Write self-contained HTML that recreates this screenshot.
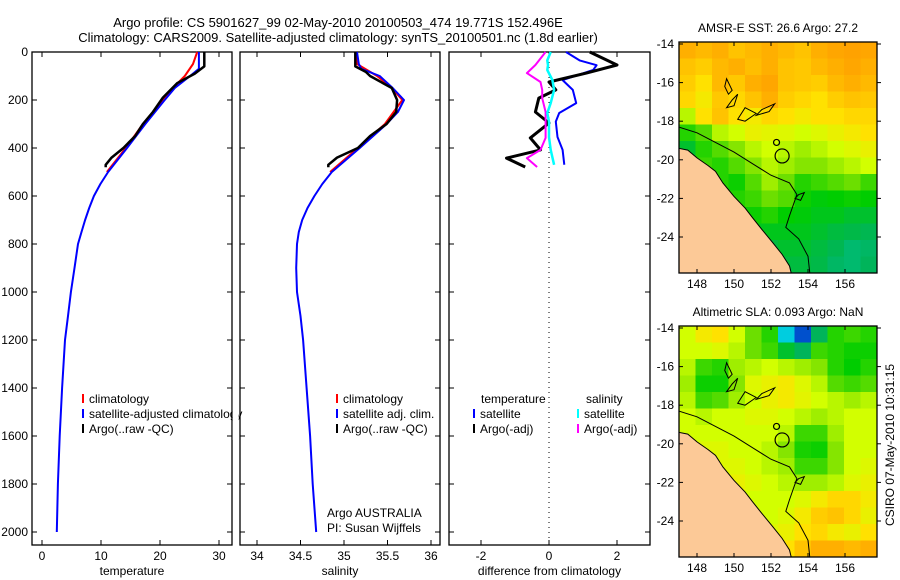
<!DOCTYPE html>
<html><head><meta charset="utf-8"><style>
body{margin:0;background:#fff;}
svg{display:block;font-family:"Liberation Sans",sans-serif;}
text{font-size:12px;fill:#000;}
</style></head><body>
<svg id="fig" width="900" height="580" viewBox="0 0 900 580" xmlns="http://www.w3.org/2000/svg">
<text x="338" y="27" text-anchor="middle" style="font-size:13px">Argo profile: CS 5901627_99 02-May-2010 20100503_474 19.771S 152.496E</text>
<text x="338" y="42" text-anchor="middle" style="font-size:13px">Climatology: CARS2009. Satellite-adjusted climatology: synTS_20100501.nc (1.8d earlier)</text>
<g id="g"></g>
</svg>
<script>
// ---- data ----
const depthTicks=[0,200,400,600,800,1000,1200,1400,1600,1800,2000];
const tempTicks=[0,10,20,30];
const salTicks=[34,34.5,35,35.5,36];
const salTickLabels=["34","34.5","35","35.5","36"];
const diffTicks=[-2,0,2];
// temperature profiles
const tClimDepth=[0,50,100,150,200,300,400,500];
const tClim=[26.3,25.6,24.2,22.2,20.5,17.1,14.2,11.0];
const tSatDepth=[0,70,100,150,200,300,400,500,550,600,650,700,750,800,900,1000,1100,1200,1400,1600,1800,2000];
const tSat=[26.6,26.6,25.1,22.5,20.8,17.5,14.4,11.2,9.9,8.8,8.0,7.3,6.7,6.1,5.5,4.9,4.4,3.9,3.4,3.0,2.7,2.5];
const tArgoDepth=[0,60,90,130,190,250,300,350,400,440,470,480];
const tArgo=[27.5,27.5,25.9,22.9,20.5,18.8,17.1,15.8,13.8,11.8,10.8,10.8];
// salinity profiles
const sClimDepth=[0,50,100,150,200,300,400,500];
const sClim=[35.13,35.15,35.38,35.55,35.67,35.47,35.16,34.84];
const sSatDepth=[0,50,70,100,150,200,250,300,400,500,550,600,650,700,750,800,900,1000,1100,1200,1400,1600,1800,2000];
const sSat=[35.15,35.17,35.2,35.41,35.56,35.69,35.62,35.49,35.18,34.86,34.75,34.66,34.58,34.52,34.48,34.46,34.45,34.46,34.5,34.53,34.57,34.61,34.64,34.68];
const sArgoDepth=[0,60,83,100,150,200,250,300,350,400,440,470,480];
const sArgo=[35.13,35.13,35.25,35.3,35.55,35.61,35.6,35.49,35.3,35.16,34.92,34.82,34.82];
// differences
const dDepth=[0,35,55,75,117,158,213,254,290,354,408,470];
const dTSat=[0.5,0.9,1.4,1.3,0.4,0.7,0.8,0.3,0.2,0.25,0.4,0.45];
const dADepth=[0,54,88,125,158,192,250,296,358,408,442,479];
const dTArgo=[1.2,2.0,1.1,0.0,0.2,-0.3,-0.4,0.0,-0.55,-0.25,-1.25,-0.7];
const dSArgo=[-0.1,-0.4,-0.65,-0.25,-0.2,-0.2,-0.1,-0.1,-0.1,-0.25,-0.65,-0.35];
const dSSat=[0.05,-0.05,-0.03,-0.05,0.1,0.15,0.05,-0.05,0,0,0.05,0.15];
// maps: 14 rows (lat 14..26), 12 cols (lon 147..158), values 0..1 on colormap
const sstGrid=[
[.9,.88,.9,.86,.88,.9,.88,.86,.9,.92,.93,.92],
[.86,.84,.88,.9,.87,.9,.86,.85,.88,.9,.92,.9],
[.84,.8,.88,.85,.9,.92,.86,.85,.84,.88,.9,.88],
[.82,.78,.85,.82,.86,.9,.84,.82,.8,.84,.86,.85],
[.7,.8,.86,.8,.78,.82,.8,.78,.8,.8,.82,.82],
[.58,.62,.7,.72,.76,.75,.74,.72,.74,.76,.78,.8],
[.5,.58,.62,.66,.7,.72,.7,.68,.7,.72,.74,.76],
[.58,.6,.58,.62,.66,.7,.68,.66,.66,.68,.7,.72],
[.6,.62,.58,.56,.62,.68,.64,.58,.6,.62,.64,.6],
[.6,.58,.55,.58,.6,.64,.62,.56,.54,.55,.56,.55],
[.56,.55,.55,.55,.56,.58,.55,.54,.52,.52,.5,.5],
[.52,.52,.52,.52,.52,.52,.52,.52,.5,.48,.47,.46],
[.5,.5,.5,.48,.46,.48,.5,.5,.48,.46,.43,.44],
[.48,.48,.46,.44,.42,.46,.48,.48,.47,.44,.43,.45]];
const slaGrid=[
[.72,.78,.8,.72,.64,.58,.3,.1,.45,.58,.6,.58],
[.72,.72,.74,.7,.64,.6,.5,.45,.6,.58,.56,.56],
[.7,.6,.58,.68,.7,.72,.7,.68,.66,.58,.55,.58],
[.68,.56,.56,.66,.74,.76,.78,.74,.7,.62,.6,.62],
[.7,.6,.62,.68,.72,.76,.78,.75,.72,.7,.68,.7],
[.72,.7,.72,.72,.74,.74,.72,.7,.68,.7,.72,.72],
[.72,.72,.72,.72,.72,.72,.7,.6,.6,.68,.72,.72],
[.72,.74,.74,.72,.72,.7,.66,.57,.56,.66,.72,.72],
[.72,.74,.74,.74,.72,.7,.68,.6,.6,.66,.72,.74],
[.72,.74,.76,.76,.74,.72,.7,.68,.68,.7,.74,.76],
[.72,.74,.74,.72,.72,.72,.72,.74,.78,.82,.82,.78],
[.72,.72,.72,.72,.72,.72,.74,.78,.84,.86,.82,.76],
[.72,.72,.72,.72,.72,.74,.76,.8,.82,.78,.76,.8],
[.72,.72,.72,.72,.74,.76,.8,.86,.9,.9,.88,.9]];
const coast=[[147.0,19.4],[147.5,19.5],[148,19.9],[148.6,20.3],[149,20.6],[149.4,21.2],[150,21.9],[150.6,22.5],[151,23.0],[151.5,23.6],[152.1,24.3],[152.6,24.9],[153,25.5],[153.1,25.9]];
const reef=[[147.0,18.3],[148,18.6],[149,19.1],[150,19.6],[151,20.2],[152,20.8],[153,21.2],[153.4,21.8],[153,22.9],[152.8,23.5],[153.5,24.1],[154,25.0],[154.1,25.9]];
const islands=[[[149.6,15.8],[149.9,16.4],[149.7,16.6],[149.5,16.2]],[[150.2,16.6],[150.0,17.2],[149.6,17.3],[149.9,16.9]],[[150.6,17.3],[151.2,17.6],[150.6,18.0],[150.2,17.9]],[[151.5,17.4],[152.2,17.1],[151.9,17.5],[151.2,17.7]],[[153.5,21.8],[153.8,21.7],[153.6,22.1],[153.3,22.0]]];
const ringLon=[152.3,152.6], ringLat=[19.1,19.8], ringR=[3,7];
// ---- helpers ----
const NS='http://www.w3.org/2000/svg', G=document.getElementById('g');
function mk(t,a,p){const e=document.createElementNS(NS,t);for(const k in a)e.setAttribute(k,a[k]);(p||G).appendChild(e);return e;}
const Y0=52,Y1=545,yD=d=>Y0+d*0.24;
function panel(x0,x1,xs,ticks,labels,name,xlabel,showY){
  const f=mk('rect',{x:x0,y:Y0,width:x1-x0,height:Y1-Y0,fill:'none',stroke:'#000','stroke-width':1.3});
  
  ticks.forEach((v,i)=>{const x=xs(v);
    mk('line',{x1:x,x2:x,y1:Y0,y2:Y0+5,stroke:'#000'});mk('line',{x1:x,x2:x,y1:Y1,y2:Y1-5,stroke:'#000'});
    const t=mk('text',{x:x,y:Y1+15,'text-anchor':'middle'});t.textContent=labels[i];
    });
  depthTicks.forEach(d=>{const y=yD(d);
    mk('line',{x1:x0,x2:x0+5,y1:y,y2:y,stroke:'#000'});mk('line',{x1:x1,x2:x1-5,y1:y,y2:y,stroke:'#000'});
    if(showY){const t=mk('text',{x:x0-4,y:y+4,'text-anchor':'end'});t.textContent=d;
      }});
  const xl=mk('text',{x:(x0+x1)/2,y:Y1+30,'text-anchor':'middle'});xl.textContent=xlabel;
  
}
function line(xs,vals,depths,color,w,name){
  const pts=vals.map((v,i)=>xs(v).toFixed(1)+','+yD(depths[i]).toFixed(1)).join(' ');
  const p=mk('polyline',{points:pts,fill:'none',stroke:color,'stroke-width':w,'stroke-linejoin':'round'});
  
}
function legend(x,y,color,label,name){
  mk('line',{x1:x,x2:x,y1:y-9,y2:y,stroke:color,'stroke-width':2});
  const t=mk('text',{x:x+6,y:y});t.textContent=label;
  
}
// temperature panel
const xT=v=>42+v*5.9;
panel(32,232,xT,tempTicks,tempTicks.map(String),'temperature-panel','temperature',true);
line(xT,tClim,tClimDepth,'#f00',2,'temp-climatology-line');
line(xT,tSat,tSatDepth,'#00f',2,'temp-satellite-line');
line(xT,tArgo,tArgoDepth,'#000',2.5,'temp-argo-line');
legend(83,403,'#f00','climatology','legend-climatology');
legend(83,418,'#00f','satellite-adjusted climatology','legend-satellite-adjusted');
legend(83,433,'#000','Argo(..raw -QC)','legend-argo');
mk('rect',{x:232.7,y:380,width:6,height:60,fill:'#fff'});
// salinity panel
const xS=v=>257+(v-34)*87;
panel(240,440,xS,salTicks,salTickLabels,'salinity-panel','salinity',false);
line(xS,sClim,sClimDepth,'#f00',2,'sal-climatology-line');
line(xS,sSat,sSatDepth,'#00f',2,'sal-satellite-line');
line(xS,sArgo,sArgoDepth,'#000',2.5,'sal-argo-line');
legend(337,403,'#f00','climatology','legend-sal-climatology');
legend(337,418,'#00f','satellite adj. clim.','legend-sal-satellite');
legend(337,433,'#000','Argo(..raw -QC)','legend-sal-argo');
[['Argo AUSTRALIA',517],['PI: Susan Wijffels',532]].forEach(a=>{const t=mk('text',{x:327,y:a[1]});t.textContent=a[0];
  });
// difference panel
const xDf=v=>549+v*34;
panel(449,650,xDf,diffTicks,diffTicks.map(String),'difference-panel','difference from climatology',false);
mk('line',{x1:xDf(0),x2:xDf(0),y1:Y0,y2:Y1,stroke:'#000','stroke-dasharray':'1,4'});
line(xDf,dTSat,dDepth,'#00f',2,'diff-temp-satellite');
line(xDf,dTArgo,dADepth,'#000',3,'diff-temp-argo');
line(xDf,dSArgo,dADepth,'#f0f',2,'diff-sal-argo');
line(xDf,dSSat,dDepth,'#0ff',2.5,'diff-sal-satellite');
[['temperature',481,403],['salinity',586,403]].forEach(a=>{const t=mk('text',{x:a[1],y:a[2]});t.textContent=a[0];
  });
legend(474,418,'#00f','satellite','legend-diff-temp-sat');
legend(474,433,'#000','Argo(-adj)','legend-diff-temp-argo');
legend(578,418,'#0ff','satellite','legend-diff-sal-sat');
legend(578,433,'#f0f','Argo(-adj)','legend-diff-sal-argo');
// colormap
const stops=[[0,[0,30,170]],[.2,[0,130,240]],[.32,[0,220,220]],[.45,[0,180,90]],[.55,[0,205,0]],[.65,[120,225,0]],[.72,[210,255,0]],[.8,[255,225,0]],[.9,[255,175,0]],[1,[255,130,0]]];
function cmap(v){for(let i=1;i<stops.length;i++){if(v<=stops[i][0]){const a=stops[i-1],b=stops[i],t=(v-a[0])/(b[0]-a[0]);
  return 'rgb('+a[1].map((c,k)=>Math.round(c+(b[1][k]-c)*t)).join(',')+')';}}return 'rgb(255,130,0)';}
function map(top,grid,title,name){
  const x0=679,x1=877,y0=top,y1=top+231;
  const xL=lon=>697+(lon-148)*18.5, yL=lat=>top+2+(lat-14)*19.3;
  const g=mk('g',{});
  const cp=mk('clipPath',{id:name+'-clip'},g);mk('rect',{x:x0,y:y0,width:x1-x0,height:y1-y0},cp);
  const c=mk('g',{'clip-path':'url(#'+name+'-clip)'},g);
  const cw=(x1-x0)/12,ch=(y1-y0)/14;
  grid.forEach((row,r)=>row.forEach((v,k)=>{const e=mk('rect',{x:x0+k*cw,y:y0+r*ch,width:cw+.5,height:ch+.5,fill:cmap(v)},c);
    }));
  const land=coast.map(p=>xL(p[0])+','+yL(p[1])).join(' ')+' '+x0+','+(y1+5)+' '+(x0-2)+','+(y1+5);
  const l=mk('polygon',{points:land,fill:'#fcc997',stroke:'#000','stroke-width':1},c);
  
  const rf=mk('polyline',{points:reef.map(p=>xL(p[0])+','+yL(p[1])).join(' '),fill:'none',stroke:'#000','stroke-width':1},c);
  
  islands.forEach(is=>mk('polygon',{points:is.map(p=>xL(p[0])+','+yL(p[1])).join(' '),fill:'none',stroke:'#000','stroke-width':1},c));
  ringLon.forEach((lo,i)=>mk('circle',{cx:xL(lo),cy:yL(ringLat[i]),r:ringR[i],fill:'none',stroke:'#000','stroke-width':1.2},c));
  mk('rect',{x:x0,y:y0,width:x1-x0,height:y1-y0,fill:'none',stroke:'#000','stroke-width':1.3},g);
  [148,150,152,154,156].forEach(lo=>{const x=xL(lo);mk('line',{x1:x,x2:x,y1:y0,y2:y0+4,stroke:'#000'},g);mk('line',{x1:x,x2:x,y1:y1,y2:y1-4,stroke:'#000'},g);
    const t=mk('text',{x:x,y:y1+15,'text-anchor':'middle'},g);t.textContent=lo;
    });
  [14,16,18,20,22,24].forEach(la=>{const y=yL(la);mk('line',{x1:x0,x2:x0+4,y1:y,y2:y,stroke:'#000'},g);mk('line',{x1:x1,x2:x1+4,y1:y,y2:y,stroke:'#000'},g);
    const t=mk('text',{x:x0-5,y:y+4,'text-anchor':'end'},g);t.textContent='-'+la;
    });
  const t=mk('text',{x:778,y:top-10,'text-anchor':'middle'},g);t.textContent=title;
  
}
map(42,sstGrid,'AMSR-E SST: 26.6 Argo: 27.2','sst-map');
map(326,slaGrid,'Altimetric SLA: 0.093 Argo: NaN','sla-map');
const st=mk('text',{x:894,y:445,'text-anchor':'middle',transform:'rotate(-90 894 445)'});st.textContent='CSIRO 07-May-2010 10:31:15';

</script>
</body></html>
